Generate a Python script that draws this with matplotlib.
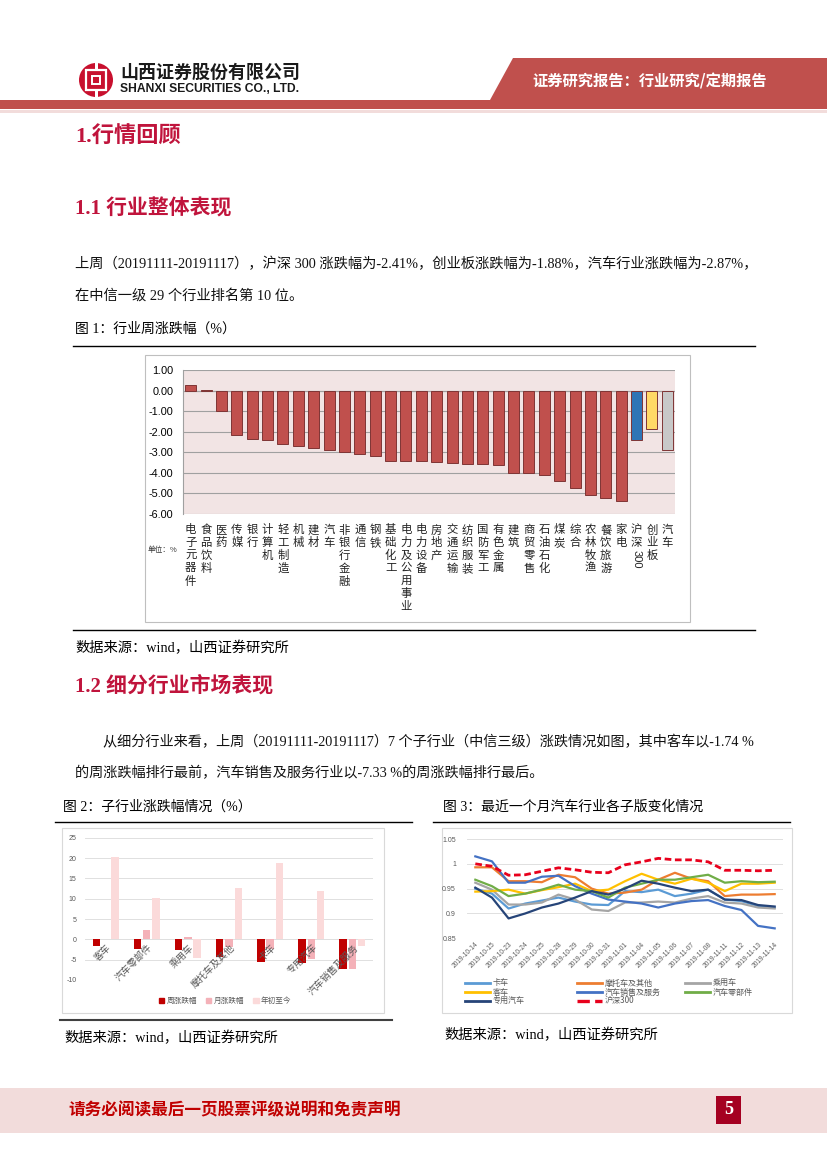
import re
import matplotlib
matplotlib.use('Agg')
import matplotlib.pyplot as plt
from matplotlib.patches import Rectangle, Polygon, Ellipse, Patch
from matplotlib.lines import Line2D
import matplotlib.transforms as mtransforms

# ---------------- data ----------------
ind_names = ['电子元器件', '食品饮料', '医药', '传媒', '银行', '计算机', '轻工制造', '机械', '建材', '汽车',
             '非银行金融', '通信', '钢铁', '基础化工', '电力及公用事业', '电力设备', '房地产', '交通运输',
             '纺织服装', '国防军工', '有色金属', '建筑', '商贸零售', '石油石化', '煤炭', '综合', '农林牧渔',
             '餐饮旅游', '家电', '沪深300', '创业板', '汽车']
ind_values = [0.26, 0.05, -0.99, -2.17, -2.36, -2.39, -2.62, -2.70, -2.78, -2.87,
              -3.00, -3.06, -3.16, -3.40, -3.41, -3.42, -3.49, -3.51,
              -3.57, -3.58, -3.62, -4.01, -4.03, -4.08, -4.38, -4.72, -5.09,
              -5.21, -5.39, -2.41, -1.88, -2.87]
ind_yticks = [1.00, 0.00, -1.00, -2.00, -3.00, -4.00, -5.00, -6.00]

sub_names = ['客车', '汽车零部件', '乘用车', '摩托车及其他', '卡车', '专用汽车', '汽车销售及服务']
sub_week = [-1.74, -2.46, -2.62, -4.40, -5.65, -5.70, -7.33]
sub_month = [0.10, 2.25, 0.65, -1.85, -2.40, -4.80, -7.20]
sub_ytd = [20.3, 10.1, -4.5, 12.7, 18.9, 11.9, -1.7]
sub_series = ['周涨跌幅', '月涨跌幅', '年初至今']
sub_yticks = [25, 20, 15, 10, 5, 0, -5, -10]

dates = ['2019-10-14', '2019-10-15', '2019-10-23', '2019-10-24', '2019-10-25', '2019-10-28',
         '2019-10-29', '2019-10-30', '2019-10-31', '2019-11-01', '2019-11-04', '2019-11-05',
         '2019-11-06', '2019-11-07', '2019-11-08', '2019-11-11', '2019-11-12', '2019-11-13',
         '2019-11-14']
truck = [0.950, 0.940, 0.910, 0.920, 0.926, 0.932, 0.924, 0.918, 0.917, 0.945, 0.943, 0.948,
         0.935, 0.940, 0.948, 0.928, 0.925, 0.915, 0.912]
moto = [0.993, 0.993, 0.965, 0.965, 0.963, 0.978, 0.973, 0.950, 0.940, 0.942, 0.948, 0.968,
        0.982, 0.970, 0.965, 0.935, 0.938, 0.938, 0.939]
car = [0.962, 0.948, 0.918, 0.918, 0.922, 0.938, 0.928, 0.908, 0.905, 0.922, 0.922, 0.924,
       0.922, 0.930, 0.935, 0.922, 0.920, 0.912, 0.910]
bus = [0.944, 0.945, 0.948, 0.940, 0.947, 0.953, 0.960, 0.945, 0.948, 0.965, 0.980, 0.968,
       0.960, 0.970, 0.962, 0.945, 0.960, 0.960, 0.962]
sales = [1.015, 1.005, 0.962, 0.962, 0.974, 0.976, 0.955, 0.940, 0.928, 0.924, 0.920, 0.912,
         0.920, 0.925, 0.927, 0.915, 0.907, 0.875, 0.870]
parts = [0.968, 0.955, 0.935, 0.940, 0.948, 0.958, 0.948, 0.945, 0.932, 0.952, 0.960, 0.968,
         0.968, 0.973, 0.978, 0.962, 0.965, 0.963, 0.964]
special = [0.952, 0.932, 0.890, 0.900, 0.912, 0.920, 0.932, 0.945, 0.938, 0.950, 0.966, 0.960,
           0.952, 0.945, 0.948, 0.928, 0.927, 0.917, 0.914]
hs300 = [1.000, 0.995, 0.977, 0.978, 0.985, 0.992, 0.988, 0.983, 0.982, 0.998, 1.004, 1.011,
         1.008, 1.008, 1.004, 0.987, 0.987, 0.986, 0.987]
line_names = ['卡车', '摩托车及其他', '乘用车', '客车', '汽车销售及服务', '汽车零部件', '专用汽车', '沪深300']
line_yticks = [0.85, 0.9, 0.95, 1.0, 1.05]

# ---------------- page setup ----------------
W, H = 827, 1169
CJK = 'Noto Sans CJK SC'
SERIF = ['Liberation Serif', CJK]
plt.rcParams['font.family'] = [CJK, 'DejaVu Sans']
fig = plt.figure(figsize=(W / 100, H / 100), dpi=100)


def fx(x):
    return x / W


def fy(y):
    return 1 - y / H


def add_ax(l, t, r, b):
    return fig.add_axes([fx(l), fy(b), (r - l) / W, (b - t) / H])


def hline(x0, x1, y, color='black', lw=1.0):
    fig.add_artist(Line2D([fx(x0), fx(x1)], [fy(y), fy(y)], color=color, lw=lw,
                          transform=fig.transFigure))


def box(l, t, r, b, ec='#d0d0d0', fc='none', lw=0.8, z=0):
    fig.add_artist(Rectangle((fx(l), fy(b)), (r - l) / W, (b - t) / H, transform=fig.transFigure,
                             ec=ec, fc=fc, lw=lw, zorder=z))


fit_list = []

# ---------------- header ----------------
RED = '#c0504d'
fig.add_artist(Polygon([(fx(490), fy(100)), (fx(513), fy(58)), (1, fy(58)), (1, fy(100))],
                       closed=True, transform=fig.transFigure, fc=RED, ec='none'))
fig.add_artist(Rectangle((0, fy(109)), 1, 9 / H, transform=fig.transFigure, fc=RED, ec='none'))
fig.add_artist(Rectangle((0, fy(113)), 1, 3 / H, transform=fig.transFigure, fc='#f2dcdb', ec='none'))
fig.text(fx(650), fy(81), '证券研究报告：行业研究/定期报告', color='white', fontsize=11,
         fontweight='bold', ha='center', va='center')

# logo
fig.add_artist(Ellipse((fx(96), fy(80)), 34 / W, 34 / H, transform=fig.transFigure, fc='#c8102e', ec='none'))
fig.add_artist(Rectangle((fx(86), fy(90)), 20 / W, 20 / H, transform=fig.transFigure, fc='none',
                         ec='white', lw=1.6))
fig.add_artist(Rectangle((fx(92), fy(84)), 8 / W, 8 / H, transform=fig.transFigure, fc='none',
                         ec='white', lw=1.4))
fig.add_artist(Rectangle((fx(94.5), fy(69)), 3 / W, 6 / H, transform=fig.transFigure, fc='white', ec='none'))
fig.add_artist(Rectangle((fx(94.5), fy(97)), 3 / W, 6 / H, transform=fig.transFigure, fc='white', ec='none'))
t = fig.text(fx(120), fy(73), '山西证券股份有限公司', fontsize=12.5, fontweight='bold', color='#1a1a1a',
             va='center', ha='left')
fit_list.append((t, 180))
t = fig.text(fx(120), fy(89), 'SHANXI SECURITIES CO., LTD.', fontsize=9,
             family=['Liberation Sans Narrow', 'Liberation Sans'], fontweight='bold', color='#1a1a1a',
             va='center', ha='left')
fit_list.append((t, 180))

# ---------------- texts ----------------
HEAD = '#c0143c'
fig.text(fx(75), fy(137), '1.行情回顾', fontsize=16, fontweight='bold', color=HEAD, family=SERIF,
         va='center')
fig.text(fx(75), fy(209), '1.1 行业整体表现', fontsize=15, fontweight='bold', color=HEAD, family=SERIF,
         va='center')
fig.text(fx(75), fy(686), '1.2 细分行业市场表现', fontsize=15, fontweight='bold', color=HEAD,
         family=SERIF, va='center')

p1 = fig.text(fx(75), fy(264), '上周（20191111-20191117），沪深 300 涨跌幅为-2.41%，创业板涨跌幅为-1.88%，汽车行业涨跌幅为-2.87%，',
              fontsize=10.3, family=SERIF, va='center', color='#111111')
p1b = fig.text(fx(75), fy(296), '在中信一级 29 个行业排名第 10 位。', fontsize=10.3, family=SERIF,
               va='center', color='#111111')
p2 = fig.text(fx(103), fy(742), '从细分行业来看，上周（20191111-20191117）7 个子行业（中信三级）涨跌情况如图，其中客车以-1.74 %',
              fontsize=10.3, family=SERIF, va='center', color='#111111')
p2b = fig.text(fx(75), fy(773), '的周涨跌幅排行最前，汽车销售及服务行业以-7.33 %的周涨跌幅排行最后。',
               fontsize=10.3, family=SERIF, va='center', color='#111111')

fig.text(fx(75), fy(329), '图 1：行业周涨跌幅（%）', fontsize=10, family=SERIF, va='center')
fig.text(fx(63), fy(807), '图 2：子行业涨跌幅情况（%）', fontsize=10, family=SERIF, va='center')
fig.text(fx(443), fy(807), '图 3：最近一个月汽车行业各子版变化情况', fontsize=10, family=SERIF, va='center')
fig.text(fx(75), fy(648), '数据来源：wind，山西证券研究所', fontsize=10.3, family=SERIF, va='center')
fig.text(fx(64), fy(1038), '数据来源：wind，山西证券研究所', fontsize=10.3, family=SERIF, va='center')
fig.text(fx(444), fy(1035), '数据来源：wind，山西证券研究所', fontsize=10.3, family=SERIF, va='center')

hline(73, 755, 346, lw=1.0)
hline(73, 755, 630, lw=1.0)
hline(55, 412, 822, lw=1.0)
hline(433, 790, 822, lw=1.0)
hline(60, 392, 1020, color='#404040', lw=1.5)

# ---------------- footer ----------------
fig.add_artist(Rectangle((0, fy(1133)), 1, 45 / H, transform=fig.transFigure, fc='#f2dcdb', ec='none'))
fig.text(fx(68), fy(1110), '请务必阅读最后一页股票评级说明和免责声明', fontsize=12, fontweight='bold',
         color='#c00000', va='center', style='italic')
fig.add_artist(Rectangle((fx(716), fy(1124)), 25 / W, 28 / H, transform=fig.transFigure, fc='#a50021',
                         ec='none'))
fig.text(fx(728.5), fy(1110), '5', fontsize=13, fontweight='bold', color='white', va='center',
         ha='center', family=['Liberation Serif'])

# ---------------- chart 1 ----------------
box(145, 355, 690, 622, ec='#bfbfbf', lw=0.8)
ax1 = add_ax(183, 370, 675, 514)
ax1.set_facecolor('#f2e4e4')
n = len(ind_names)
colors1 = ['#c0504d'] * (n - 3) + ['#2e75b6', '#ffd966', '#c8c8c8']
ax1.bar(range(n), ind_values, width=0.72, color=colors1, edgecolor='#7f3434', linewidth=0.7, zorder=3)
ax1.set_xlim(-0.5, n - 0.5)
ax1.set_ylim(-6, 1)
ax1.set_yticks(ind_yticks)
ax1.set_yticklabels(['%.2f' % v for v in ind_yticks], fontsize=7.8, family=['Liberation Sans'])
ax1.yaxis.grid(True, color='#a0a0a0', lw=0.8, zorder=0)
ax1.set_axisbelow(True)
ax1.set_xticks([])
ax1.tick_params(axis='y', length=0, pad=7)
for s in ['top', 'right', 'bottom']:
    ax1.spines[s].set_visible(False)
ax1.spines['left'].set_color('#a0a0a0')
ax1.axhline(0, color='#a0a0a0', lw=0.8, zorder=2)
trans1 = mtransforms.blended_transform_factory(ax1.transData, fig.transFigure)
for i, name in enumerate(ind_names):
    ycur = 530
    for tok in re.findall(r'\d+|.', name):
        if tok.isdigit():
            h = len(tok) * 6.2
            ax1.text(i, fy(ycur - 6.4 + 1 + h / 2), tok, transform=trans1, rotation=-90, ha='center',
                     va='center', fontsize=8, family=['Liberation Sans'], color='#222222')
            ycur += h + 1
        else:
            ax1.text(i, fy(ycur), tok, transform=trans1, ha='center', va='center', fontsize=8.2,
                     color='#222222')
            ycur += 12.8
fig.text(fx(148), fy(550), '单位：%', fontsize=5.5, va='center', color='#333333')

# ---------------- chart 2 ----------------
box(62, 828, 384, 1013, ec='#d9d9d9', lw=0.8)
ax2 = add_ax(85, 837.7, 373, 980)
x2 = range(len(sub_names))
c_week, c_month, c_ytd = '#c00000', '#f4b1b8', '#fbdada'
ax2.bar([i - 0.225 for i in x2], sub_week, width=0.18, color=c_week, zorder=3)
ax2.bar(list(x2), sub_month, width=0.18, color=c_month, zorder=3)
ax2.bar([i + 0.225 for i in x2], sub_ytd, width=0.18, color=c_ytd, zorder=3)
ax2.set_xlim(-0.5, len(sub_names) - 0.5)
ax2.set_ylim(-10, 25)
ax2.set_yticks(sub_yticks)
ax2.set_yticklabels([str(v) for v in sub_yticks], fontsize=5, color='#595959',
                    family=['Liberation Sans'])
ax2.tick_params(axis='y', length=0, pad=6)
ax2.set_xticks([])
ax2.yaxis.grid(True, color='#e0e0e0', lw=0.7, zorder=0)
ax2.axhline(0, color='#d0d0d0', lw=0.7, zorder=1)
for s in ax2.spines.values():
    s.set_visible(False)
for i, name in enumerate(sub_names):
    ax2.text(i + 0.02, -0.8, name, rotation=45, rotation_mode='anchor', ha='right', va='top',
             fontsize=6.8, color='#595959', zorder=5)
h2 = [Patch(color=c) for c in (c_week, c_month, c_ytd)]
fig.legend(h2, sub_series, loc='center', bbox_to_anchor=(fx(225), fy(1001)), ncol=3, frameon=False,
           fontsize=5.5, handlelength=0.7, handleheight=0.7, handletextpad=0.3, columnspacing=1.2,
           labelcolor='#595959')

# ---------------- chart 3 ----------------
box(442, 828, 792, 1013, ec='#d9d9d9', lw=0.8)
ax3 = add_ax(467, 839, 783, 938.3)
series3 = [truck, moto, car, bus, sales, parts, special, hs300]
colors3 = ['#5b9bd5', '#ed7d31', '#a5a5a5', '#ffc000', '#4472c4', '#70ad47', '#264478', '#e8001c']
lines = []
for vals, col, nm in zip(series3, colors3, line_names):
    if nm == '沪深300':
        ln, = ax3.plot(range(len(dates)), vals, color=col, lw=2.0, ls=(0, (2.4, 1.3)), zorder=4)
    else:
        ln, = ax3.plot(range(len(dates)), vals, color=col, lw=1.6, zorder=3)
    lines.append(ln)
ax3.set_xlim(-0.5, len(dates) - 0.5)
ax3.set_ylim(0.85, 1.05)
ax3.set_yticks(line_yticks)
ax3.set_yticklabels(['%g' % v for v in line_yticks], fontsize=5, color='#595959',
                    family=['Liberation Sans'])
ax3.tick_params(axis='y', length=0, pad=8)
ax3.set_xticks(range(len(dates)))
ax3.set_xticklabels(dates, rotation=45, ha='right', rotation_mode='anchor', fontsize=4.8,
                    color='#595959', family=['Liberation Sans'])
ax3.tick_params(axis='x', length=0, pad=2)
ax3.yaxis.grid(True, color='#e0e0e0', lw=0.7, zorder=0)
for s in ax3.spines.values():
    s.set_visible(False)
# legend (row-major layout like the source)
leg_pos = [(465, 983), (577, 983), (685, 983), (465, 992), (577, 992), (685, 992), (465, 1001), (577, 1001)]
for ln, nm, (lx, ly) in zip(lines, line_names, leg_pos):
    fig.add_artist(Line2D([fx(lx), fx(lx + 25)], [fy(ly), fy(ly)], transform=fig.transFigure,
                          color=ln.get_color(), lw=ln.get_linewidth() + 0.4, ls=ln.get_linestyle()))
    fig.text(fx(lx + 28), fy(ly), nm, fontsize=5.8, color='#595959', va='center')

# ---------------- fit justified lines ----------------
fig.canvas.draw()
r = fig.canvas.get_renderer()
for tt, target in fit_list + [(p1, 682), (p2, 650)]:
    wpx = tt.get_window_extent(r).width
    tt.set_fontsize(tt.get_fontsize() * target / wpx)
p1b.set_fontsize(p1.get_fontsize())
p2b.set_fontsize(p2.get_fontsize())

fig.savefig('out.png', dpi=100)
